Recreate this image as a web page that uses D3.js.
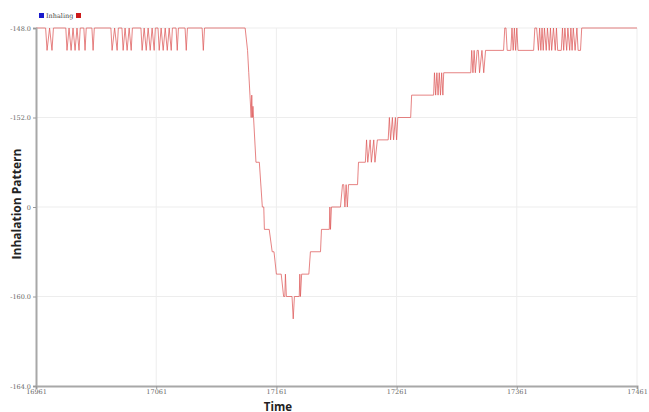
<!DOCTYPE html>
<html>
<head>
<meta charset="utf-8">
<script src="https://cdn.jsdelivr.net/npm/d3@7/dist/d3.min.js"></script>
<style>
  html, body { margin: 0; padding: 0; background: #fff; }
  svg { display: block; }
</style>
</head>
<body>
<svg id="chart" width="649" height="412"></svg>
<script>
// ---- data ----
const seriesName = "Inhaling";
const xTickValues = [16961, 17061, 17161, 17261, 17361, 17461];
const xTickLabels = ["16961", "17061", "17161", "17261", "17361", "17461"];
const yTickValues = [-148, -152, -156, -160, -164];
const yTickLabels = ["-148.0", "-152.0", "0", "-160.0", "-164.0"];

const times = [
  16961, 16969, 16970.2, 16972.3, 16974.3, 16975.5,
  16985.8, 16986.8, 16988.5, 16990.2, 16991.8, 16993.5, 16995.1, 16996.8, 16997.8,
  17000.8, 17001.8, 17002.8,
  17007.5, 17008.5, 17009.5,
  17023.3, 17024.3, 17026.4, 17028.5, 17029.5,
  17032.5, 17033.5, 17035.1, 17036.8, 17038.5, 17040.2, 17041.2,
  17048.3, 17049.3, 17051, 17052.7, 17054.3, 17056, 17057.6, 17059.3, 17060.3,
  17062.5, 17063.5, 17065.1, 17066.8, 17068.5, 17070.2, 17071.8, 17073.5, 17074.5,
  17077.5, 17078.5, 17079.5,
  17085, 17086, 17087,
  17099.2, 17100.2, 17101.2,
  17135, 17137, 17138, 17139, 17140, 17140.5, 17141, 17141.5, 17142,
  17144, 17146.8, 17149.3, 17150.5, 17151, 17155, 17157.5, 17159,
  17161, 17165, 17167, 17168, 17168.5, 17169.3, 17174, 17175, 17176,
  17180, 17180.5, 17181, 17182, 17188, 17189.3, 17197.7, 17198.5,
  17205, 17205.5, 17206, 17206.8, 17214.3, 17216, 17217, 17218, 17219, 17220, 17221,
  17228.5, 17229.3, 17235, 17236, 17237, 17239, 17240, 17242, 17243, 17245, 17246,
  17254, 17255, 17256, 17257.5, 17258.5, 17260, 17261, 17262,
  17272.7, 17273.5, 17291.8, 17292.5, 17293.5, 17294.5, 17295.5, 17296.5, 17297.5,
  17298.5, 17299.5, 17300.2,
  17322.7, 17323.5, 17324.5, 17325.5, 17326.5, 17328, 17329, 17330, 17332, 17333.5, 17335,
  17350, 17351, 17352, 17353, 17356, 17357, 17358, 17359, 17360, 17361, 17362,
  17375, 17376, 17377.5, 17379, 17380, 17381, 17382, 17383, 17384, 17385.5, 17386.5,
  17388, 17389, 17390, 17391.5, 17393, 17394, 17395, 17398, 17399, 17400, 17401,
  17402.5, 17403.5, 17405, 17406, 17407, 17408, 17409.5, 17411, 17412, 17414, 17415,
  17461
];
const values = [
  -148, -148, -149, -148, -149, -148,
  -148, -149, -148, -149, -148, -149, -148, -149, -148,
  -148, -149, -148,
  -148, -149, -148,
  -148, -149, -148, -149, -148,
  -148, -149, -148, -149, -148, -149, -148,
  -148, -149, -148, -149, -148, -149, -148, -149, -148,
  -148, -149, -148, -149, -148, -149, -148, -149, -148,
  -148, -149, -148,
  -148, -149, -148,
  -148, -149, -148,
  -148, -149, -150, -151, -152, -151, -152, -151.5, -152,
  -154, -154, -156, -156, -157, -157, -158, -158,
  -159, -159, -160, -160, -159, -160, -160, -161, -160,
  -160, -159, -160, -159, -159, -158, -158, -157,
  -157, -156, -157, -156, -156, -155, -155, -156, -155, -156, -155,
  -155, -154, -154, -153, -154, -153, -154, -153, -154, -153, -153,
  -153, -152, -153, -152, -153, -152, -153, -152,
  -152, -151, -151, -150, -151, -150, -151, -150, -151,
  -150, -151, -150,
  -150, -149, -150, -149, -150, -149, -149, -150, -149, -150, -149,
  -149, -148, -148, -149, -149, -148, -149, -148, -149, -148, -149,
  -149, -148, -148, -149, -148, -149, -148, -149, -148, -149, -148,
  -149, -148, -149, -148, -149, -148, -149, -149, -148, -149, -148,
  -149, -148, -149, -148, -149, -148, -149, -148, -149, -149, -148,
  -148
];

// ---- layout ----
const svg = d3.select("#chart");
const margin = { left: 36, right: 12, top: 28, bottom: 26 };
const W = 649, H = 412;
const x = d3.scaleLinear().domain([16961, 17461]).range([margin.left, W - margin.right]);
const y = d3.scaleLinear().domain([-164, -148]).range([H - margin.bottom, margin.top]);

// grid
const grid = svg.append("g");
grid.selectAll("line.v").data(xTickValues.slice(1)).join("line")
  .attr("x1", d => x(d)).attr("x2", d => x(d))
  .attr("y1", y(-148)).attr("y2", y(-164))
  .attr("stroke", "#ededed").attr("stroke-width", 1);
grid.selectAll("line.h").data(yTickValues.slice(0, -1)).join("line")
  .attr("x1", x(16961)).attr("x2", x(17461))
  .attr("y1", d => y(d)).attr("y2", d => y(d))
  .attr("stroke", "#ededed").attr("stroke-width", 1);

// series line
const pts = times.map((t, i) => [t, values[i]]);
svg.append("path")
  .datum(pts)
  .attr("fill", "none")
  .attr("stroke", "#de5a5a")
  .attr("stroke-opacity", 0.75)
  .attr("stroke-width", 1)
  .attr("stroke-linejoin", "miter")
  .attr("d", d3.line().x(d => x(d[0])).y(d => y(d[1])));

// axes
const yAxis = svg.append("g")
  .attr("transform", `translate(${margin.left},0)`)
  .call(d3.axisLeft(y).tickValues(yTickValues).tickSize(3).tickPadding(2)
    .tickFormat((d, i) => yTickLabels[i]));
const xAxis = svg.append("g")
  .attr("transform", `translate(0,${H - margin.bottom})`)
  .call(d3.axisBottom(x).tickValues(xTickValues).tickSize(3).tickPadding(0)
    .tickFormat((d, i) => xTickLabels[i]));
[yAxis, xAxis].forEach(a => {
  a.select(".domain").attr("stroke", "#a8a8a8").attr("stroke-width", 2);
  a.selectAll(".tick line").attr("stroke", "#999");
  a.selectAll(".tick text")
    .attr("fill", "#666")
    .style("font-family", "'DejaVu Serif', serif")
    .style("font-size", "6.5px");
});

// axis titles
svg.append("text")
  .attr("transform", `translate(21,${(margin.top + H - margin.bottom) / 2 - 3}) rotate(-90)`)
  .attr("text-anchor", "middle")
  .style("font-family", "'Open Sans', 'DejaVu Sans', sans-serif")
  .style("font-weight", "bold")
  .style("font-size", "12px")
  .attr("fill", "#222")
  .text("Inhalation Pattern");
svg.append("text")
  .attr("x", 278).attr("y", 410.5)
  .attr("text-anchor", "middle")
  .style("font-family", "'Open Sans', 'DejaVu Sans', sans-serif")
  .style("font-weight", "bold")
  .style("font-size", "11.5px")
  .attr("fill", "#222")
  .text("Time");

// legend
const lg = svg.append("g");
lg.append("rect").attr("x", 39).attr("y", 13).attr("width", 5).attr("height", 5).attr("fill", "#1a1acc");
lg.append("text").attr("x", 46).attr("y", 18)
  .style("font-family", "'DejaVu Serif', serif").style("font-size", "6.5px").attr("fill", "#444")
  .text(seriesName);
lg.append("rect").attr("x", 76).attr("y", 13).attr("width", 5).attr("height", 5).attr("fill", "#cc1a1a");
</script>
</body>
</html>
